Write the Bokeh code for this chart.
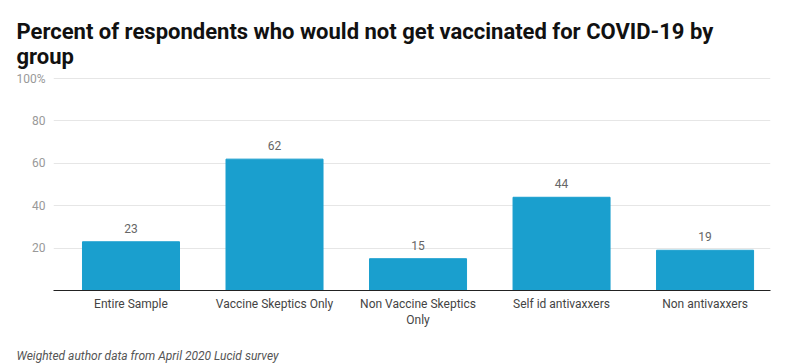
from bokeh.plotting import figure
from bokeh.models import ColumnDataSource, FixedTicker, Title, Range1d
from bokeh.core.properties import value
from bokeh.embed import file_html
from bokeh.resources import INLINE

categories = ["Entire Sample", "Vaccine Skeptics Only", "Non Vaccine Skeptics\nOnly",
              "Self id antivaxxers", "Non antivaxxers"]
values = [23, 62, 15, 44, 19]
y_ticks = [20, 40, 60, 80, 100]
y_tick_labels = {20: "20", 40: "40", 60: "60", 80: "80", 100: "100%"}

xs = list(range(len(categories)))
src = ColumnDataSource(dict(x=xs, top=values, label=[str(v) for v in values]))

p = figure(width=785, height=363, output_backend="svg", toolbar_location=None,
           x_range=Range1d(-0.54, 4.456), y_range=Range1d(0, 101),
           min_border_left=53, min_border_right=15, min_border_top=75, min_border_bottom=70)

p.title.text = "Percent of respondents who would not get vaccinated for COVID-19 by\ngroup"
p.title.text_font = "Roboto"
p.title.text_font_style = "bold"
p.title.text_font_size = "22px"
p.title.text_color = "#111111"
p.title.align = "left"
p.title.offset = -37
p.title.standoff = 16
p.title.padding = (0, 0, 8, 0)

footer = Title(text="Weighted author data from April 2020 Lucid survey", align="left",
               text_font="Roboto", text_font_style="italic", text_font_size="12px",
               text_color="#555555", offset=-37, standoff=2)
p.add_layout(footer, "below")

p.vbar(x="x", top="top", width=0.676, source=src, color="#1a9fce")
p.text(x="x", y="top", text="label", source=src, text_align="center", text_baseline="bottom",
       y_offset=-9, text_font=value("Roboto"), text_font_size="12px", text_color="#666666")

p.outline_line_color = None
p.background_fill_color = "white"
p.border_fill_color = "white"

p.xgrid.grid_line_color = None
p.ygrid.grid_line_color = "#e6e6e6"
p.ygrid.ticker = FixedTicker(ticks=y_ticks)

p.yaxis.ticker = FixedTicker(ticks=y_ticks)
p.yaxis.major_label_overrides = y_tick_labels
p.yaxis.axis_line_color = None
p.yaxis.major_tick_line_color = None
p.yaxis.minor_tick_line_color = None
p.yaxis.major_tick_out = 0
p.yaxis.major_tick_in = 0
p.yaxis.major_label_text_font = "Roboto"
p.yaxis.major_label_text_font_size = "12px"
p.yaxis.major_label_text_color = "#999999"
p.yaxis.major_label_standoff = 8

p.xaxis.ticker = FixedTicker(ticks=xs)
p.xaxis.major_label_overrides = {i: c for i, c in zip(xs, categories)}
p.xaxis.axis_line_color = "#222222"
p.xaxis.axis_line_width = 1
p.xaxis.major_tick_line_color = None
p.xaxis.minor_tick_line_color = None
p.xaxis.major_tick_out = 0
p.xaxis.major_tick_in = 0
p.xaxis.major_label_text_font = "Roboto"
p.xaxis.major_label_text_font_size = "12px"
p.xaxis.major_label_text_color = "#444444"
p.xaxis.major_label_standoff = 6
p.xaxis.axis_label = " "
p.xaxis.axis_label_text_font_size = "11px"
p.xaxis.axis_label_standoff = 0

open("out.html", "w").write(file_html(p, INLINE))
